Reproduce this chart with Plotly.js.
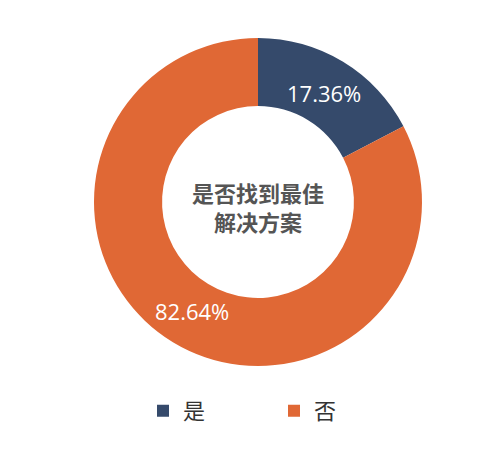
<!DOCTYPE html>
<html>
<head>
<meta charset="utf-8">
<script src="https://cdn.plot.ly/plotly-3.0.1.min.js"></script>
<style>
    html, body { margin: 0; padding: 0; background: #fff; }
    #chart { width: 500px; height: 458px; }
</style>
</head>
<body>
<div id="chart"></div>
<script>
"use strict";

var labels = ["是", "否"];
var shares = [17.36, 82.64];
var sliceColors = ["#354a6b", "#e06835"];
var centerTitle = "是否找到最佳<br>解决方案";

var W = 500, H = 458;
var cx = 258, cy = 202, outerR = 164, holeFrac = 0.585;

/**
 * Puts each percentage label on the middle of its ring segment, at the slice's mid-angle
 * (clockwise from 12 o'clock), like the original chart does
 */
function percentLabels() {
    var total = shares.reduce(function(a, b) { return a + b; }, 0);
    var midR = outerR * (1 + holeFrac) / 2 - 2;
    var acc = 0;
    return shares.map(function(v) {
        var ang = (acc + v / 2) / total * 2 * Math.PI;
        acc += v;
        return {
            xref: "paper",
            yref: "paper",
            x: (cx + midR * Math.sin(ang)) / W,
            y: 1 - (cy - midR * Math.cos(ang)) / H,
            xanchor: "center",
            yanchor: "middle",
            showarrow: false,
            text: v.toFixed(2) + "%",
            font: { family: "Open Sans", size: 22, color: "#ffffff" }
        };
    });
}

var pieData = [{
    type: "pie",
    labels: labels,
    values: shares,
    hole: holeFrac,
    sort: false,
    direction: "clockwise",
    rotation: 0,
    marker: {
        colors: sliceColors,
        line: { width: 0 }
    },
    textinfo: "none",
    hoverinfo: "none",
    domain: {
        x: [(cx - outerR) / W, (cx + outerR) / W],
        y: [1 - (cy + outerR) / H, 1 - (cy - outerR) / H]
    }
}];

var annotations = percentLabels();
annotations.push({
    xref: "paper",
    yref: "paper",
    x: cx / W,
    y: 1 - 206 / H,
    xanchor: "center",
    yanchor: "middle",
    showarrow: false,
    text: centerTitle,
    font: { family: "Noto Sans CJK SC", size: 22, color: "#555555", weight: "bold" }
});

var pieLayout = {
    width: W,
    height: H,
    margin: { l: 0, r: 0, t: 0, b: 0 },
    paper_bgcolor: "#ffffff",
    showlegend: true,
    legend: {
        orientation: "h",
        x: 0.286,
        xanchor: "left",
        y: 0.103,
        yanchor: "middle",
        entrywidth: 86,
        font: { family: "Noto Sans CJK SC", size: 22, color: "#333333" }
    },
    annotations: annotations
};

Plotly.newPlot("chart", pieData, pieLayout, { displayModeBar: false, staticPlot: true });
</script>
</body>
</html>
